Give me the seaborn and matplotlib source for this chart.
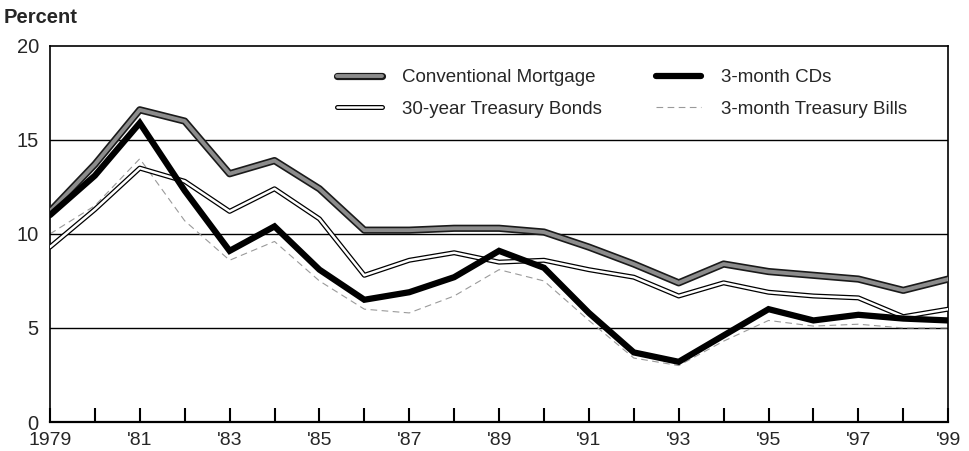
import matplotlib.pyplot as plt
import matplotlib.patheffects as pe
import pandas as pd
import seaborn as sns

# Interest rates, annual averages, percent
years = list(range(1979, 2000))
mortgage = [11.2, 13.7, 16.6, 16.0, 13.2, 13.9, 12.4, 10.2, 10.2, 10.3, 10.3,
            10.1, 9.3, 8.4, 7.4, 8.4, 8.0, 7.8, 7.6, 7.0, 7.6]
bonds_30y = [9.3, 11.3, 13.5, 12.8, 11.2, 12.4, 10.8, 7.8, 8.6, 9.0, 8.5,
             8.6, 8.1, 7.7, 6.7, 7.4, 6.9, 6.7, 6.6, 5.6, 6.0]
cds_3m = [11.0, 13.1, 15.9, 12.3, 9.1, 10.4, 8.1, 6.5, 6.9, 7.7, 9.1,
          8.2, 5.8, 3.7, 3.2, 4.6, 6.0, 5.4, 5.7, 5.5, 5.4]
tbills_3m = [10.0, 11.5, 14.0, 10.7, 8.6, 9.6, 7.5, 6.0, 5.8, 6.7, 8.1,
             7.5, 5.4, 3.4, 3.0, 4.3, 5.4, 5.1, 5.2, 5.0, 5.0]

labels = {
    "mortgage": "Conventional Mortgage",
    "bonds": "30-year Treasury Bonds",
    "cds": "3-month CDs",
    "tbills": "3-month Treasury Bills",
}

df = pd.DataFrame({"year": years, "mortgage": mortgage, "bonds": bonds_30y,
                   "cds": cds_3m, "tbills": tbills_3m})

sns.set_theme(style="white")
plt.rcParams["font.family"] = ["Liberation Sans", "DejaVu Sans"]

fig = plt.figure(figsize=(9.7, 4.51), dpi=100)
ax = fig.add_axes([0.0515, 0.0643, 0.926, 0.834])

# grid lines first so the series sit on top
for yv in (5, 10, 15):
    ax.axhline(yv, color="black", lw=1.0, zorder=1)

sns.lineplot(data=df, x="year", y="tbills", ax=ax, color="#9a9a9a", lw=0.8,
             linestyle=(0, (6, 4)), label=labels["tbills"], zorder=2)
sns.lineplot(data=df, x="year", y="bonds", ax=ax, color="white", lw=1.8,
             label=labels["bonds"], zorder=3,
             path_effects=[pe.Stroke(linewidth=3.6, foreground="black"), pe.Normal()])
sns.lineplot(data=df, x="year", y="mortgage", ax=ax, color="#8c8c8c", lw=2.8,
             label=labels["mortgage"], zorder=4,
             path_effects=[pe.Stroke(linewidth=5.2, foreground="#1a1a1a"), pe.Normal()])
sns.lineplot(data=df, x="year", y="cds", ax=ax, color="black", lw=4.5,
             label=labels["cds"], zorder=5, solid_joinstyle="miter")

ax.set_xlim(1979, 1999)
ax.set_ylim(0, 20)
ax.set_xticks(years)
ax.set_xticklabels(["1979" if y == 1979 else ("'" + str(y)[2:] if y % 2 == 1 else "")
                    for y in years], fontsize=14)
ax.set_yticks([0, 5, 10, 15, 20])
ax.set_yticklabels(["0", "5", "10", "15", "20"], fontsize=14.5)
ax.tick_params(axis="x", direction="in", length=10, width=1.5, color="black",
               bottom=True, pad=7)
ax.tick_params(axis="y", length=0, pad=8)
ax.set_xlabel("")
ax.set_ylabel("")

for side in ("left", "bottom", "top", "right"):
    ax.spines[side].set_color("black")
    ax.spines[side].set_linewidth(1.2)
ax.spines["bottom"].set_linewidth(1.6)

handles, lbls = ax.get_legend_handles_labels()
order = [labels["mortgage"], labels["bonds"], labels["cds"], labels["tbills"]]
hmap = dict(zip(lbls, handles))
ax.legend([hmap[k] for k in order], order, ncol=2, frameon=False,
          loc="upper left", bbox_to_anchor=(0.301, 0.983), fontsize=13.5,
          handlelength=2.4, handletextpad=1.05, labelspacing=0.78,
          columnspacing=2.9)

fig.text(0.004, 0.962, "Percent", fontsize=14.5, fontweight="bold", va="center")

fig.savefig("out.png", dpi=100)
